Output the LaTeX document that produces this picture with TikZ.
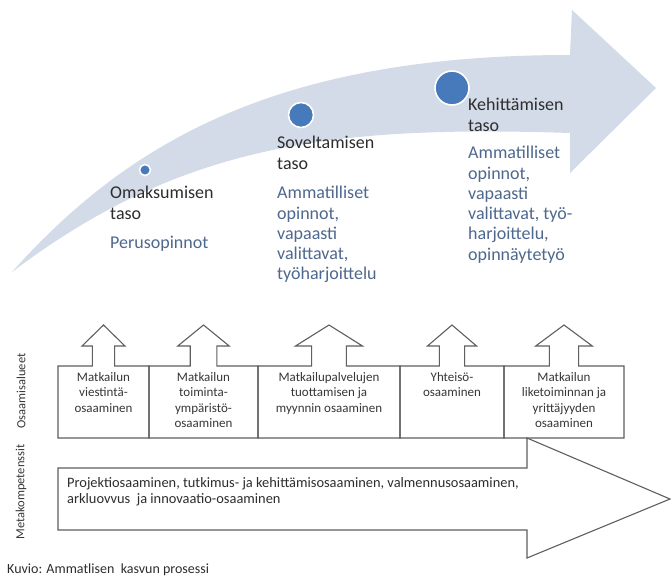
\documentclass[tikz,border=0pt]{standalone}
\usepackage{fontspec}
\setmainfont{Carlito}
\definecolor{arrowfill}{RGB}{210,219,231}
\definecolor{dotblue}{RGB}{70,122,186}
\definecolor{titlegray}{RGB}{45,45,45}
\definecolor{subblue}{RGB}{78,104,142}
\definecolor{linegray}{RGB}{95,95,95}
\definecolor{boxtext}{RGB}{55,55,55}
\tikzset{
  dot/.style={circle, fill=dotblue, draw=white, line width=1.6pt, inner sep=0pt},
  titletext/.style={anchor=north west, inner sep=0pt, align=left, text=titlegray, font=\fontsize{18}{20.5}\selectfont},
  subtext/.style={anchor=north west, inner sep=0pt, align=left, text=subblue, font=\fontsize{18}{20.3}\selectfont},
  outline/.style={draw=linegray, line width=1.1pt, line join=miter},
  boxlabel/.style={anchor=north, inner sep=0pt, align=center, text=boxtext, font=\fontsize{13}{15.5}\selectfont},
  sidelabel/.style={rotate=90, inner sep=0pt, text=boxtext, font=\fontsize{12.5}{14}\selectfont},
}
\begin{document}
\begin{tikzpicture}[x=1pt,y=-1pt]
\useasboundingbox (0,0) rectangle (671,578);
\fill[white] (0,0) rectangle (671,578);

% curved growth arrow
\fill[arrowfill] (12,272) .. controls (130,140) and (280,55) .. (570,55)
  -- (572,10) -- (656,88) -- (570,173) -- (570,133)
  .. controls (330,125) and (180,145) .. (12,272) -- cycle;

% level dots
\node[dot, minimum size=11pt] (d1) at (145,170) {};
\node[dot, minimum size=25pt] (d2) at (301,115) {};
\node[dot, minimum size=34pt] (d3) at (452,88) {};

% level texts
\node[titletext] (t1) at (110,186) {Omaksumisen\\taso};
\node[subtext] (s1) at (110,236) {Perusopinnot};
\node[titletext] (t2) at (277,136) {Soveltamisen\\taso};
\node[subtext] (s2) at (277,186) {Ammatilliset\\opinnot,\\vapaasti\\valittavat,\\työharjoittelu};
\node[titletext] (t3) at (468,98) {Kehittämisen\\taso};
\node[subtext] (s3) at (468,146) {Ammatilliset\\opinnot,\\vapaasti\\valittavat, työ-\\harjoittelu,\\opinnäytetyö};

% competence boxes with up arrows
\foreach \xa/\xb in {58/149, 149/258, 258/400, 400/504, 504/624}{
  \pgfmathsetmacro{\cx}{(\xa+\xb)/2}
  \pgfmathsetmacro{\hw}{0.236*(\xb-\xa)}
  \pgfmathsetmacro{\sw}{0.122*(\xb-\xa)}
  \draw[outline] (\xa,438) -- (\xa,366) -- (\cx-\sw,366) -- (\cx-\sw,346) -- (\cx-\hw,346)
    -- (\cx,325) -- (\cx+\hw,346) -- (\cx+\sw,346) -- (\cx+\sw,366) -- (\xb,366) -- (\xb,438) -- cycle;
}
\node[boxlabel] (b1) at (103.5,372) {Matkailun\\viestintä-\\osaaminen};
\node[boxlabel] (b2) at (203.5,372) {Matkailun\\toiminta-\\ympäristö-\\osaaminen};
\node[boxlabel] (b3) at (329,372) {Matkailupalvelujen\\tuottamisen ja\\myynnin osaaminen};
\node[boxlabel] (b4) at (452,372) {Yhteisö-\\osaaminen};
\node[boxlabel] (b5) at (564,372) {Matkailun\\liketoiminnan ja\\yrittäjyyden\\osaaminen};

% meta competence arrow
\draw[outline] (58,468) -- (527,468) -- (527,438) -- (670,499) -- (527,558) -- (527,530) -- (58,530) -- cycle;
\node[anchor=north west, inner sep=0pt, align=left, text=titlegray, font=\fontsize{14.4}{16.5}\selectfont] (meta) at (67,477)
  {Projektiosaaminen, tutkimus- ja kehittämisosaaminen, valmennusosaaminen,\\arkluovvus\ \ ja innovaatio-osaaminen};

% side labels
\node[sidelabel] (osa) at (21,391) {Osaamisalueet};
\node[sidelabel] (mk) at (21,492) {Metakompetenssit};

% caption
\node[anchor=base west, inner sep=0pt, text=titlegray, font=\fontsize{14}{16}\selectfont] (cap) at (7,573) {Kuvio: Ammatlisen\ \ kasvun prosessi};
\end{tikzpicture}
\end{document}
